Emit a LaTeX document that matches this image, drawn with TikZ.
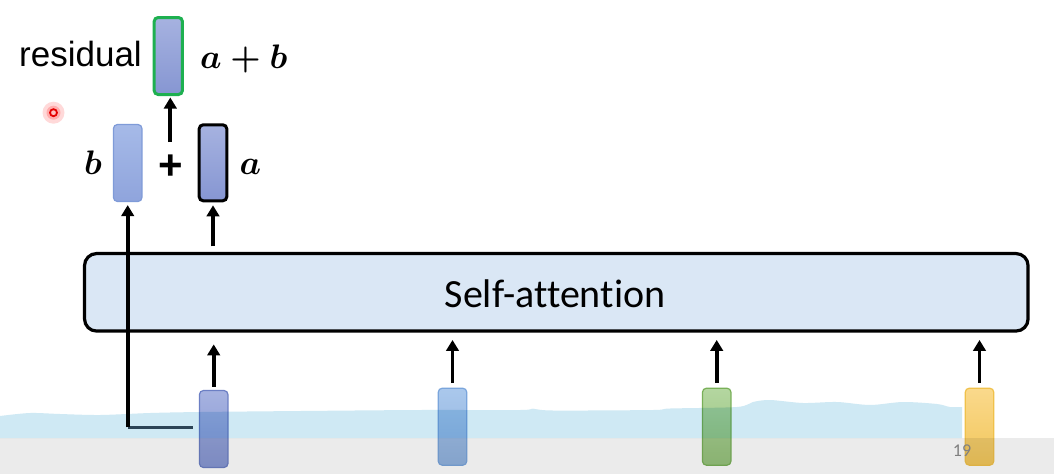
\documentclass[tikz,border=0pt]{standalone}
\usepackage{amsmath}
\usepackage{fontspec}
\newfontfamily\arialf{Liberation Sans}
\newfontfamily\calibf[Ligatures={NoCommon,NoRequired,NoContextual}]{Carlito}
\usetikzlibrary{arrows.meta}
\newcommand{\bigmath}[1]{\scalebox{3.4}{\fontsize{10}{12}\selectfont$\boldsymbol{#1}$}}
\definecolor{safill}{RGB}{218,231,245}
\definecolor{resgreen}{RGB}{30,176,80}
\definecolor{slate}{RGB}{55,75,90}
\definecolor{bandc}{RGB}{207,233,244}
\definecolor{periT}{RGB}{166,178,224}
\definecolor{periB}{RGB}{134,150,210}
\definecolor{periD}{RGB}{108,127,196}
\definecolor{lbT}{RGB}{166,186,232}
\definecolor{lbB}{RGB}{143,164,220}
\definecolor{lbD}{RGB}{127,155,216}
\definecolor{skyT}{RGB}{170,200,236}
\definecolor{skyB}{RGB}{144,178,222}
\definecolor{skyD}{RGB}{122,165,220}
\definecolor{grT}{RGB}{180,214,160}
\definecolor{grB}{RGB}{149,194,123}
\definecolor{grD}{RGB}{121,176,88}
\definecolor{yeT}{RGB}{250,217,140}
\definecolor{yeB}{RGB}{242,198,90}
\definecolor{yeD}{RGB}{240,193,74}
\begin{document}
\begin{tikzpicture}[x=1pt,y=-1pt,
  arr/.style={line width=3.7pt,-{Triangle[width=12.5pt,length=11pt]}},
  vec/.style={rounded corners=4pt,inner sep=0pt,line width=1.2pt,minimum width=28.5pt,minimum height=77pt},
  lbl/.style={inner sep=0pt}]
\useasboundingbox[fill=white] (0,0) rectangle (1054,474);

% self-attention block
\node[draw,line width=3.2pt,rounded corners=12pt,fill=safill,minimum width=943.5pt,minimum height=77.5pt,inner sep=0pt] (sa) at (556.3,292.3) {};
\node[anchor=base,inner sep=0pt,font=\calibf\fontsize{40}{48}\selectfont] (satext) at (555,307.7) {Self-attention};

% input vectors
\node[vec,draw=periD,top color=periT,bottom color=periB] (in1) at (213.7,429) {};
\node[vec,draw=skyD,top color=skyT,bottom color=skyB] (in2) at (452.5,426.7) {};
\node[vec,draw=grD,top color=grT,bottom color=grB] (in3) at (716.7,426.7) {};
\node[vec,draw=yeD,top color=yeT,bottom color=yeB] (in4) at (979.5,426.7) {};

% output vectors
\node[vec,draw=lbD,top color=lbT,bottom color=lbB] (bbox) at (127.7,163) {};
\node[vec,draw=black,line width=3pt,minimum width=27.6pt,minimum height=76pt,top color=periT,bottom color=periB] (abox) at (213,162.8) {};
\node[vec,draw=resgreen,line width=3pt,minimum width=28.3pt,minimum height=77pt,top color=periT,bottom color=periB] (res) at (168.3,56) {};

% labels
\node[anchor=base east,inner sep=0pt,font=\arialf\fontsize{35}{42}\selectfont] (restext) at (142,66.7) {residual};
\node[lbl,anchor=base west] (sum) at (200,68.3) {\bigmath{a+b}};
\node[lbl,anchor=base east] (blab) at (102,174) {\bigmath{b}};
\node[lbl,anchor=base west] (alab) at (239.5,174) {\bigmath{a}};
\node[inner sep=0pt,font=\arialf\bfseries\fontsize{42}{48}\selectfont] (plus) at (170.3,167) {+};

% arrows into self-attention
\draw[arr,shorten <=3pt,shorten >=11.7pt] (in1.north) -- (in1.north |- sa.south);
\draw[arr,shorten <=4.5pt,shorten >=7.3pt] (in2.north) -- (in2.north |- sa.south);
\draw[arr,shorten <=4.5pt,shorten >=7.3pt] (in3.north) -- (in3.north |- sa.south);
\draw[arr,shorten <=4.5pt,shorten >=7.3pt] (in4.north) -- (in4.north |- sa.south);

% output arrows
\draw[arr,shorten <=5.5pt,shorten >=3pt] (sa.north -| abox.south) -- (abox.south);
\draw[arr,shorten <=25pt,shorten >=1.5pt] (plus.center) -- (plus.center |- res.south);

% residual connection
\coordinate (rc) at (127.7,427.3);
\draw[line width=3.5pt,slate,shorten >=6pt] (rc) -- (rc -| in1.west);
\draw[arr,shorten >=3pt] (rc) -- (bbox.south);

% laser pointer
\node[circle,fill=red,opacity=0.15,minimum size=22pt,inner sep=0pt] (glow) at (53.5,112.7) {};
\node[circle,fill=red,opacity=0.2,minimum size=14pt,inner sep=0pt] (glow2) at (53.5,112.7) {};
\node[circle,draw=red!90!black,line width=1.8pt,fill=pink,minimum size=7pt,inner sep=0pt] (laser) at (53.5,112.7) {};

% video overlay band
\fill[bandc,blend mode=multiply] plot[smooth] coordinates {(0,416) (30,413) (60,414) (100,415) (150,413) (200,412) (300,411) (420,410) (520,410) (533,408.7) (553,410.5) (653,410) (670,408.5) (737,407) (753,402) (770,400) (803,403) (837,402) (870,405) (903,402) (937,404) (950,407) (962,407)} -- (962,438) -- (0,438) -- cycle;
\fill[black,opacity=0.08] (0,438) rectangle (1054,474);
\node[anchor=base west,inner sep=0pt,text=black!50,font=\calibf\fontsize{18}{22}\selectfont] (pg) at (952.7,456) {19};
\end{tikzpicture}
\end{document}
